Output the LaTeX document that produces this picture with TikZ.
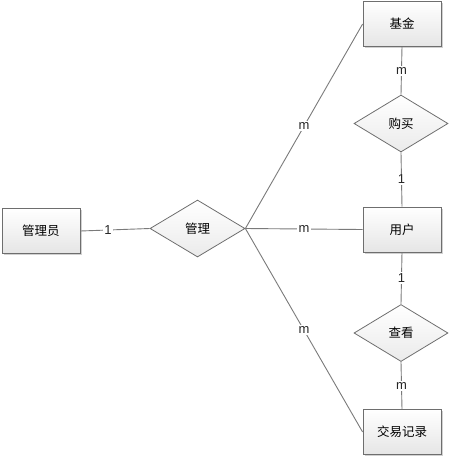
\documentclass[tikz,border=0pt]{standalone}
\usepackage{fontspec}
\setmainfont{Liberation Sans}
\newfontfamily\cjk{Noto Sans CJK SC}
\usetikzlibrary{shapes.geometric,shadows}
\definecolor{edgegray}{HTML}{7A7A7A}
\definecolor{bordergray}{HTML}{6E6E6E}
\tikzset{
  entity/.style={draw=bordergray, line width=0.8pt, rectangle, minimum width=78pt, minimum height=45pt, inner sep=0pt,
    top color=white, bottom color=black!10, font=\cjk\fontsize{12.5}{14}\selectfont,
    drop shadow={shadow xshift=1.5pt, shadow yshift=-1.5pt, fill=black!30, opacity=0.6}},
  relation/.style={draw=bordergray, line width=0.8pt, diamond, minimum width=94pt, minimum height=57pt, inner sep=0pt,
    top color=white, bottom color=black!8, font=\cjk\fontsize{12.5}{14}\selectfont},
  link/.style={draw=edgegray, line width=0.9pt},
  card/.style={fill=white, inner sep=1.5pt, font=\fontsize{13}{15}\selectfont, text=black!85}
}
\begin{document}
\begin{tikzpicture}[x=1pt,y=-1pt]
\useasboundingbox (0,0) rectangle (454,459);
\node[entity] (jj) at (402,24) {基金};
\node[relation] (gm) at (401,123.5) {购买};
\node[entity] (yh) at (402,229.5) {用户};
\node[relation] (ck) at (401,333) {查看};
\node[entity] (jy) at (402,432) {交易记录};
\node[entity] (gly) at (41,231) {管理员};
\node[relation, minimum width=95pt] (gl) at (197.5,228.5) {管理};
\draw[link] (gly.east) -- node[card, pos=0.4] {1} (gl.west);
\draw[link] (gl.east) -- node[card] {m} (jj.west);
\draw[link] (gl.east) -- node[card] {m} (yh.west);
\draw[link] (gl.east) -- node[card] {m} (jy.west);
\draw[link] (jj.south) -- node[card] {m} (gm.north);
\draw[link] (gm.south) -- node[card] {1} (yh.north);
\draw[link] (yh.south) -- node[card] {1} (ck.north);
\draw[link] (ck.south) -- node[card] {m} (jy.north);
\end{tikzpicture}
\end{document}
